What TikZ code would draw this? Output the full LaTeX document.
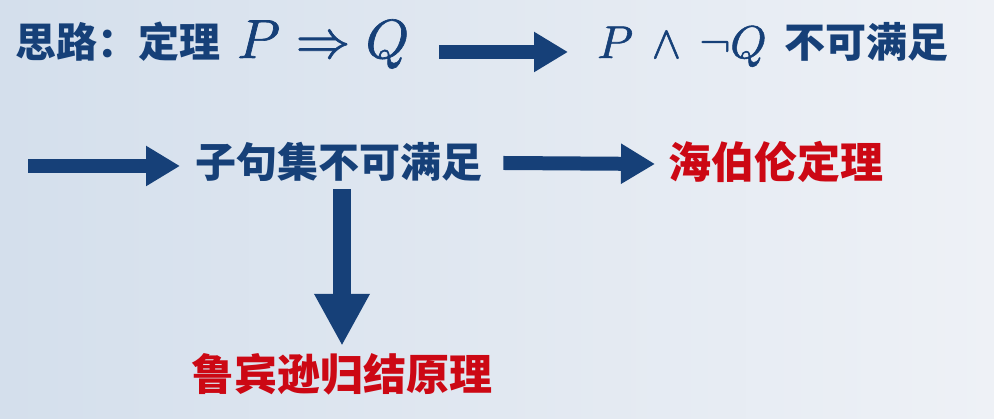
\documentclass[tikz,border=0pt]{standalone}
\usepackage{fontspec}
\usepackage{unicode-math}
\setmathfont{Latin Modern Math}[FakeBold=1.2]
\newfontfamily\cjk{Noto Sans CJK SC}
\usetikzlibrary{arrows.meta}
\definecolor{navy}{RGB}{22,64,120}
\definecolor{hired}{RGB}{204,8,20}
\definecolor{bgleft}{RGB}{212,223,236}
\definecolor{bgright}{RGB}{238,241,246}

\begin{document}
\begin{tikzpicture}[x=1pt,y=1pt,
  every node/.style={inner sep=0pt,anchor=base west,text=navy},
  zh/.style={font=\cjk\bfseries\fontsize{41pt}{46pt}\selectfont},
  zhred/.style={font=\cjk\bfseries\fontsize{43pt}{48pt}\selectfont,text=hired},
  fatarrow/.style={navy,line width=14pt,-{Triangle[length=34pt,width=38pt]}},
  downarrow/.style={navy,line width=18pt,-{Triangle[length=52pt,width=52pt]}}]
\useasboundingbox (0,0) rectangle (994,419);
\shade[left color=bgleft,right color=bgright] (0,0) rectangle (994,419);

% first line
\node[zh] (idea) at (15,361) {思路：定理\hspace{17pt}{\fontsize{55pt}{60pt}\selectfont$P\Rightarrow Q$}};
\node[zh] (neg) at (597,361) {{\fontsize{46pt}{50pt}\selectfont$P\,\wedge\,\neg Q$}\hspace{18pt}不可满足};

% second line
\coordinate (rowstart) at (28,253);
\node[zh] (clause) at (195,241) {子句集不可满足};
\node[zhred] (herbrand) at (668,240) {海伯伦定理};
\node[zhred,anchor=base] (robinson) at (342,28) {鲁宾逊归结原理};

\draw[fatarrow] ([shift={(30pt,6pt)}]idea.base east) -- ([shift={(-29pt,6pt)}]neg.base west);
\draw[fatarrow] (rowstart) -- ([shift={(-15pt,12pt)}]clause.base west);
\draw[fatarrow] ([shift={(21pt,15pt)}]clause.base east) -- ([shift={(-13pt,15pt)}]herbrand.base west);
\draw[downarrow,shorten <=7pt] (robinson.north |- clause.south) -- ([yshift=8pt]robinson.north);
\end{tikzpicture}
\end{document}
